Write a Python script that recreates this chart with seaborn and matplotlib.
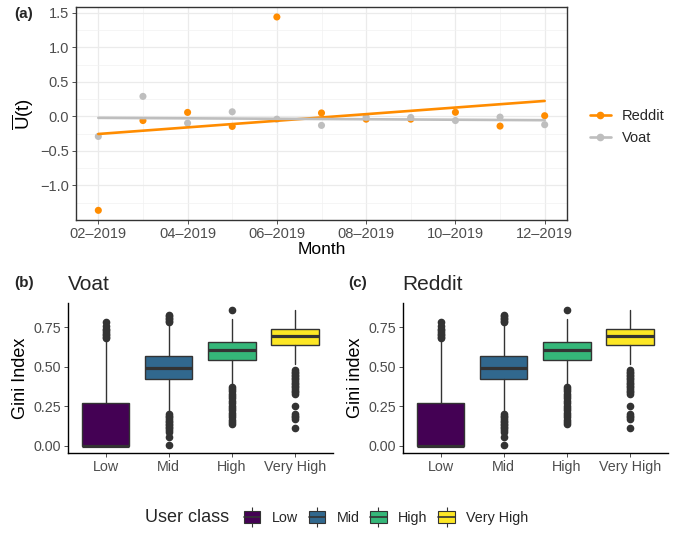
import matplotlib
matplotlib.use("Agg")
import matplotlib.pyplot as plt
import seaborn as sns
import pandas as pd
from matplotlib.lines import Line2D
from matplotlib.patches import Patch
from matplotlib.legend_handler import HandlerTuple

# ---------------- data ----------------
months = ["02-2019", "03-2019", "04-2019", "05-2019", "06-2019", "07-2019",
          "08-2019", "09-2019", "10-2019", "11-2019", "12-2019"]
month_tick_labels = ["02–2019", "04–2019", "06–2019", "08–2019", "10–2019", "12–2019"]
reddit_u = [-1.36, -0.06, 0.058, -0.145, 1.44, 0.05, -0.04, -0.04, 0.06, -0.14, 0.01]
voat_u = [-0.29, 0.29, -0.097, 0.067, -0.04, -0.13, -0.01, -0.015, -0.06, -0.01, -0.12]

classes = ["Low", "Mid", "High", "Very High"]
class_colors = ["#440154", "#31688E", "#35B779", "#FDE725"]

q1 = [0.0, 0.425, 0.545, 0.64]
med = [0.0, 0.493, 0.604, 0.692]
q3 = [0.272, 0.566, 0.654, 0.738]
whis_lo = [0.0, 0.215, 0.39, 0.515]
whis_hi = [0.665, 0.78, 0.80, 0.86]
fliers_low = [0.68, 0.69, 0.70, 0.71, 0.72, 0.73, 0.74, 0.76, 0.78]
fliers_mid = [0.785, 0.79, 0.80, 0.81, 0.82, 0.83,
              0.20, 0.19, 0.18, 0.17, 0.16, 0.15, 0.14, 0.13, 0.12, 0.11, 0.10, 0.09, 0.055, 0.003]
fliers_high = [0.86, 0.375, 0.36, 0.345, 0.33, 0.315, 0.30, 0.285, 0.27, 0.255, 0.24,
               0.225, 0.21, 0.195, 0.18, 0.165, 0.15, 0.14]
fliers_vhigh = [0.48, 0.47, 0.46, 0.45, 0.44, 0.43, 0.42, 0.41, 0.40, 0.39, 0.38, 0.37,
                0.36, 0.35, 0.34, 0.33, 0.255, 0.20, 0.19, 0.18, 0.17, 0.115]
fliers_all = [fliers_low, fliers_mid, fliers_high, fliers_vhigh]

# ---------------- style ----------------
sns.set_theme(style="white")
plt.rcParams['font.family'] = ['Liberation Sans', 'DejaVu Sans']
plt.rcParams['mathtext.fontset'] = 'custom'
plt.rcParams['mathtext.rm'] = 'Liberation Sans'
plt.rcParams['mathtext.it'] = 'Liberation Sans:italic'

TICK_COL = "#4D4D4D"
ORANGE = "#FF8C00"
GREY = "#BEBEBE"

fig = plt.figure(figsize=(6.89, 5.34), dpi=100)
W, H = 689, 534

def box(l, t, r, b):
    return [l / W, 1 - b / H, (r - l) / W, (b - t) / H]

# ---------------- top panel ----------------
ax = fig.add_axes(box(76, 7.3, 567, 220))
n = len(months)
df = pd.DataFrame({
    "idx": list(range(n)) * 2,
    "value": reddit_u + voat_u,
    "platform": ["Reddit"] * n + ["Voat"] * n,
})
pal = {"Reddit": ORANGE, "Voat": GREY}
sns.scatterplot(data=df, x="idx", y="value", hue="platform", palette=pal,
                s=26, linewidth=0, legend=False, ax=ax, zorder=3)
for name in ["Reddit", "Voat"]:
    sub = df[df.platform == name]
    sns.regplot(data=sub, x="idx", y="value", scatter=False, ci=None,
                color=pal[name], line_kws=dict(lw=1.9, zorder=4), ax=ax)

ax.set_xlim(-0.5, 10.5)
ax.set_ylim(-1.50, 1.58)
ax.set_xticks(list(range(0, n, 2)))
ax.set_xticklabels(month_tick_labels)
ax.set_xticks(list(range(1, n, 2)), minor=True)
ax.set_yticks([-1.0, -0.5, 0.0, 0.5, 1.0, 1.5])
ax.set_yticklabels(["−1.0", "−0.5", "0.0", "0.5", "1.0", "1.5"])
ax.set_yticks([-1.25, -0.75, -0.25, 0.25, 0.75, 1.25], minor=True)
ax.grid(True, which="major", color="#EBEBEB", lw=0.9, zorder=0)
ax.grid(True, which="minor", color="#F2F2F2", lw=0.5, zorder=0)
ax.set_axisbelow(True)
for s in ax.spines.values():
    s.set_color("#333333")
    s.set_linewidth(1.0)
ax.tick_params(axis="both", which="major", length=3, width=0.6, color="#333333",
               labelsize=10.5, labelcolor=TICK_COL, pad=2, bottom=True, left=True)
ax.tick_params(axis="both", which="minor", length=0)
ax.set_xlabel("Month", fontsize=12.5, color="black", labelpad=1)
ax.set_ylabel(r"$\overline{\mathrm{U}}\mathrm{(t)}$", fontsize=13.5, color="black", labelpad=3)

top_handles = [Line2D([], [], color=ORANGE, lw=1.9, marker="o", markersize=4.5),
               Line2D([], [], color=GREY, lw=1.9, marker="o", markersize=4.5)]
fig.legend(top_handles, ["Reddit", "Voat"], loc="center left",
           bbox_to_anchor=(577 / W, 1 - 127 / H), frameon=False, fontsize=10.5,
           handlelength=1.4, handletextpad=0.8, labelspacing=0.5)

fig.text(14 / W, 1 - 14 / H, "(a)", fontsize=11, fontweight="bold", va="center", ha="left")

# ---------------- bottom panels ----------------
def draw_box(ax, ylabel):
    stats = []
    for i in range(len(classes)):
        stats.append(dict(med=med[i], q1=q1[i], q3=q3[i], whislo=whis_lo[i],
                          whishi=whis_hi[i], fliers=fliers_all[i], label=classes[i]))
    art = ax.bxp(stats, positions=list(range(len(classes))), widths=0.75,
                 patch_artist=True, showcaps=False,
                 boxprops=dict(edgecolor="#333333", lw=1.0),
                 medianprops=dict(color="#333333", lw=2.3),
                 whiskerprops=dict(color="#333333", lw=1.0),
                 flierprops=dict(marker="o", markerfacecolor="#333333",
                                 markeredgecolor="#333333", markersize=4.5))
    for patch, c in zip(art["boxes"], class_colors):
        patch.set_facecolor(c)
    ax.set_xlim(-0.6, 3.6)
    ax.set_ylim(-0.043, 0.903)
    ax.set_xticks(list(range(len(classes))))
    ax.set_xticklabels(classes)
    ax.set_yticks([0.0, 0.25, 0.5, 0.75])
    ax.set_yticklabels(["0.00", "0.25", "0.50", "0.75"])
    ax.spines["top"].set_visible(False)
    ax.spines["right"].set_visible(False)
    for s in ["left", "bottom"]:
        ax.spines[s].set_color("black")
        ax.spines[s].set_linewidth(1.0)
    ax.tick_params(axis="both", length=3, width=0.6, color="#333333",
                   labelsize=10.3, labelcolor=TICK_COL, pad=2, bottom=True, left=True)
    ax.set_ylabel(ylabel, fontsize=13, color="black", labelpad=3)
    ax.set_xlabel("")

ax_b = fig.add_axes(box(67.7, 303, 333, 452.7))
draw_box(ax_b, "Gini Index")
ax_c = fig.add_axes(box(402.7, 303, 668, 452.7))
draw_box(ax_c, "Gini index")

fig.text(14 / W, 1 - 283 / H, "(b)", fontsize=11, fontweight="bold", va="center", ha="left")
fig.text(68 / W, 1 - 284 / H, "Voat", fontsize=15, va="center", ha="left")
fig.text(348 / W, 1 - 283 / H, "(c)", fontsize=11, fontweight="bold", va="center", ha="left")
fig.text(402 / W, 1 - 284 / H, "Reddit", fontsize=15, va="center", ha="left")

# bottom legend
fig.text(145 / W, 1 - 518 / H, "User class", fontsize=13, va="center", ha="left")
leg_handles = []
for c in class_colors:
    leg_handles.append((Line2D([], [], color="#333333", marker="|", markersize=15,
                               linestyle="none", markeredgewidth=0.8),
                        Patch(facecolor=c, edgecolor="#333333", lw=0.8),
                        Line2D([], [], color="#333333", lw=1.2)))
fig.legend(leg_handles, classes, loc="center left", bbox_to_anchor=(231 / W, 1 - 518 / H),
           ncol=4, frameon=False, fontsize=10.3, handlelength=1.15, handleheight=0.9,
           handletextpad=0.8, columnspacing=0.75,
           handler_map={tuple: HandlerTuple(ndivide=1, pad=0)})

fig.savefig("out.png", dpi=100)
